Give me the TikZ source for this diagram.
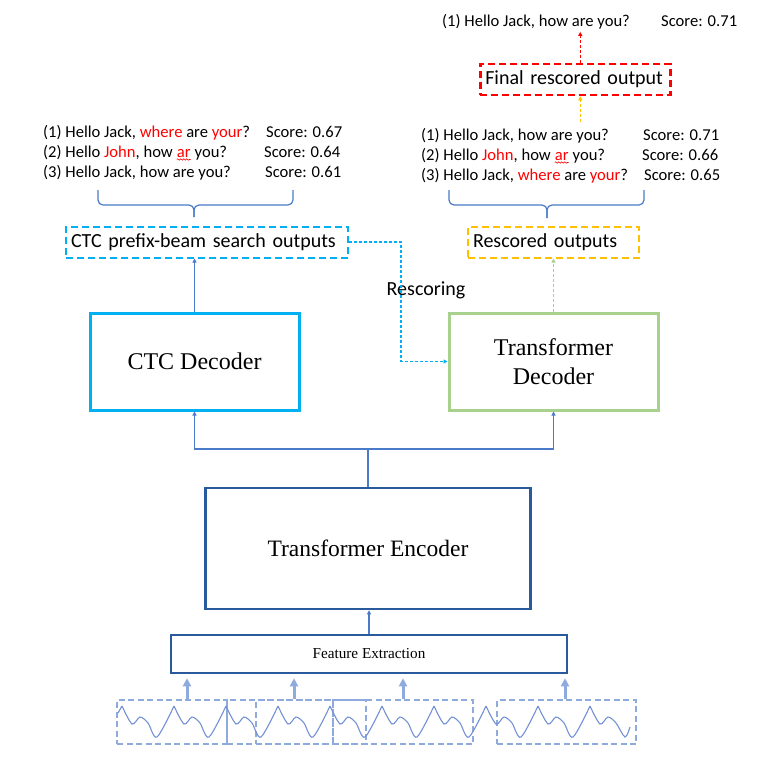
\documentclass[tikz,border=0pt]{standalone}
\usepackage{fontspec}
\setmainfont{Liberation Serif}
\newfontfamily\calibri{Carlito}
\usetikzlibrary{arrows.meta,decorations.pathmorphing}

\definecolor{ctcblue}{HTML}{00B0F0}
\definecolor{decgreen}{HTML}{A9D18E}
\definecolor{encblue}{HTML}{285A9C}
\definecolor{linkblue}{HTML}{4A7BC8}
\definecolor{wordred}{HTML}{FF0000}
\definecolor{rescorange}{HTML}{FFC000}
\definecolor{waveframe}{HTML}{8FAADC}
\definecolor{wavecurve}{HTML}{7391D5}

\newcommand\redword[1]{\textcolor{wordred}{#1}}
\newcommand\spellmark[1]{\tikz[baseline=(sq.base)]{\node[inner sep=0pt,outer sep=0pt,anchor=base] (sq) {\redword{#1}};
  \draw[wordred,line width=0.6pt,decorate,decoration={snake,amplitude=0.7pt,segment length=3pt}] ([yshift=-2.5pt]sq.base west) -- ([yshift=-2.5pt]sq.base east);}}

\tikzset{
>={Triangle[length=4pt,width=4pt]},
block/.style={draw, rectangle, inner sep=0pt, align=center},
outbox/.style={draw, rectangle, line width=2pt, dash pattern=on 7pt off 4pt, anchor=west, inner xsep=5pt, inner ysep=0pt, minimum height=31pt, align=left, font=\calibri\fontsize{20}{24}\selectfont},
listtext/.style={anchor=base west, inner sep=0pt, font=\calibri\fontsize{16.6}{20}\selectfont},
link/.style={draw=linkblue, line width=1.2pt},
dashlink/.style={line width=1.2pt, dash pattern=on 3pt off 2pt},
bracket/.style={draw=linkblue, line width=1.2pt, rounded corners=5pt},
wavebox/.style={draw=waveframe, line width=1.8pt, dash pattern=on 6pt off 3.5pt, inner sep=0pt},
waveline/.style={draw=wavecurve, line width=1.1pt},
feed/.style={draw=waveframe, line width=3pt, -{Triangle[length=8pt,width=8pt]}},
}

\begin{document}
\begin{tikzpicture}[x=1pt, y=-1pt]
    \useasboundingbox (0,0) rectangle (775,763);

    % decoders, encoder, features
    \node[block, draw=ctcblue, line width=3pt, minimum width=209pt, minimum height=97pt, font=\fontsize{24}{29}\selectfont] (ctc) at (194.5,361.5) {CTC Decoder};
    \node[block, draw=decgreen, line width=3pt, minimum width=209pt, minimum height=97pt, font=\fontsize{24}{29}\selectfont] (tdec) at (553.5,361.5) {Transformer\\Decoder};
    \node[block, draw=encblue, line width=2.5pt, minimum width=325pt, minimum height=121pt, font=\fontsize{23.5}{28}\selectfont] (enc) at (368,548.5) {Transformer Encoder};
    \node[block, draw=encblue, line width=2.5pt, minimum width=396pt, minimum height=38pt, font=\fontsize{15.2}{18}\selectfont] (feat) at (369,654) {Feature Extraction};

    % output boxes
    \node[outbox, draw=ctcblue, text width=272pt] (ctcout) at (65,242) {CTC prefix-beam search outputs};
    \node[outbox, draw=rescorange, text width=161pt] (resc) at (467,242) {Rescored outputs};
    \node[outbox, draw=wordred, line width=2.5pt, text width=180pt] (final) at (479,79.5) {Final rescored output};
    \node[inner sep=0pt, font=\calibri\fontsize{20}{24}\selectfont] (rlabel) at (426,290) {Rescoring};

    % hypotheses
    \node[listtext] (c1) at (43,137) {(1) Hello Jack, \redword{where} are \redword{your}?};
    \node[listtext] (c1s) at (266,137) {Score: 0.67};
    \node[listtext] (c2) at (43,157) {(2) Hello \redword{John}, how \spellmark{ar} you?};
    \node[listtext] (c2s) at (264,157) {Score: 0.64};
    \node[listtext] (c3) at (43,177) {(3) Hello Jack, how are you?};
    \node[listtext] (c3s) at (265,177) {Score: 0.61};

    \node[listtext] (r1) at (421,140) {(1) Hello Jack, how are you?};
    \node[listtext] (r1s) at (643,140) {Score: 0.71};
    \node[listtext] (r2) at (421,160) {(2) Hello \redword{John}, how \spellmark{ar} you?};
    \node[listtext] (r2s) at (642,160) {Score: 0.66};
    \node[listtext] (r3) at (421,180) {(3) Hello Jack, \redword{where} are \redword{your}?};
    \node[listtext] (r3s) at (644,180) {Score: 0.65};

    \node[listtext] (best) at (442,26) {(1) Hello Jack, how are you?};
    \node[listtext] (bests) at (661,26) {Score: 0.71};

    % braces
    \draw[bracket] (98,190) -- (98,205) -- (194,205) -- (194,217);
    \draw[bracket] (293,190) -- (293,205) -- (194,205) -- (194,217);
    \draw[bracket] (449,190) -- (449,205) -- (547,205) -- (547,218);
    \draw[bracket] (644,190) -- (644,205) -- (547,205) -- (547,218);

    % connectors
    \coordinate (split) at (368,449);
    \draw[link] (enc.north) -- (split);
    \draw[link,->] (split) -| (ctc.south);
    \draw[link,->] (split) -| (tdec.south);
    \draw[link,->] (feat.north) -- (feat.north |- enc.south);
    \draw[link,->] (ctc.north) -- (ctc.north |- ctcout.south);
    \draw[dashlink, ctcblue, ->] (ctcout.east) -- ++(52,0) |- (tdec.west);
    \draw[dashlink, decgreen, ->] (tdec.north) -- (tdec.north |- resc.south);
    \draw[dashlink, rescorange, ->, shorten <=6pt] ([xshift=5pt]final.south |- r1.north) -- ([xshift=5pt]final.south);
    \draw[dashlink, wordred, ->, shorten >=3pt] ([xshift=5pt]final.north) -- ([xshift=5pt]final.north |- best.south);

    % speech frames
    \node[wavebox, minimum width=110pt, minimum height=44pt] (w1) at (172,722) {};
    \node[wavebox, minimum width=106pt, minimum height=44pt] (w2) at (280,722) {};
    \node[wavebox, minimum width=110pt, minimum height=44pt] (w3) at (311,722) {};
    \node[wavebox, minimum width=140pt, minimum height=44pt] (w4) at (403,722) {};
    \node[wavebox, minimum width=139pt, minimum height=44pt] (w5) at (566.5,722) {};

    \draw[waveline] plot[smooth] coordinates {(118,713) (122,706)};
    \foreach \k in {0,...,8}
        \draw[waveline, xshift=52*\k] plot[smooth] coordinates {(122,706) (132,724) (140,717) (148,723) (157,737) (174,706)};
    \draw[waveline, xshift=468] plot[smooth] coordinates {(122,706) (132,724) (140,717) (148,723) (157,737) (162,727)};

    \foreach \x in {187,294,403,565}
        \draw[feed, shorten >=4pt] (\x,0 |- w1.north) -- (\x,0 |- feat.south);
\end{tikzpicture}
\end{document}
